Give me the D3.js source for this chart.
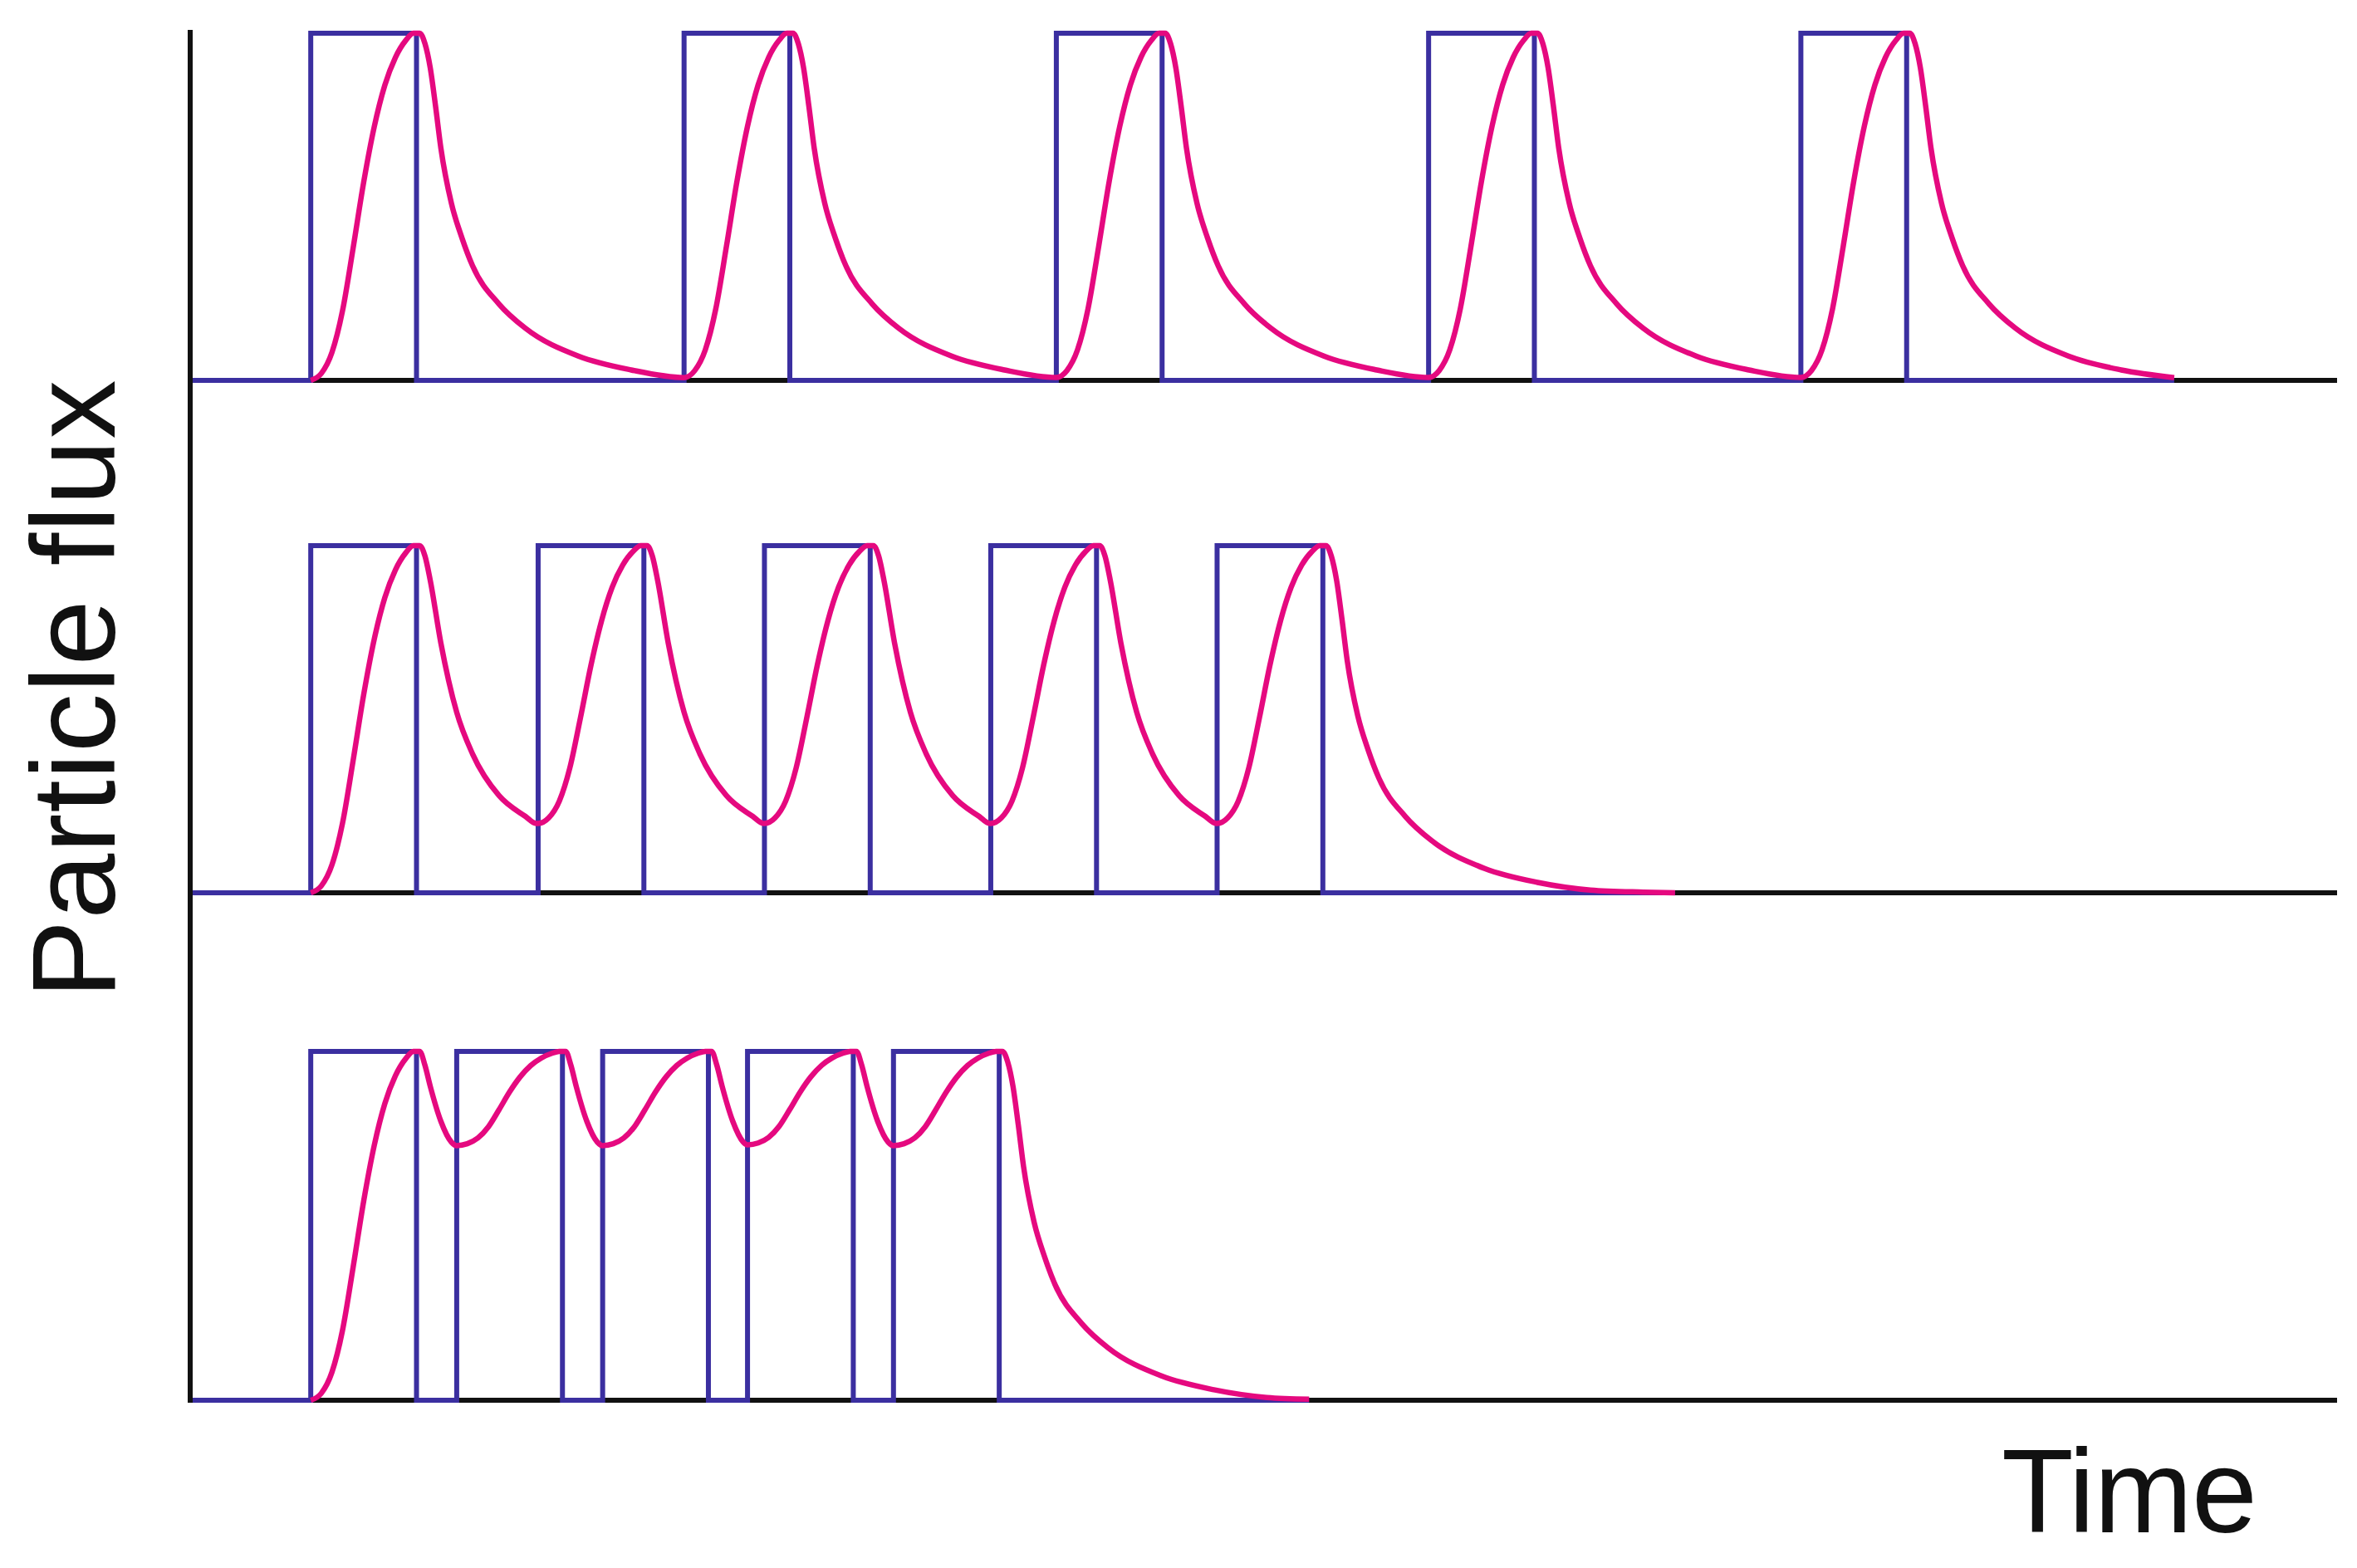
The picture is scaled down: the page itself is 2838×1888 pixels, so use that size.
<!DOCTYPE html>
<html lang="en">
<head>
  <meta charset="utf-8">
  <title>Particle flux</title>
  <script src="https://d3js.org/d3.v7.min.js"></script>
  <style>
    body { margin: 0; background: #fff; }
    text { font-family: "Liberation Sans", Arial, sans-serif; fill: #111; }
  </style>
</head>
<body>
<div id="container"></div>
<script>
  var w = 2838, h = 1888;

  // pulse start times per panel (time unit = one pulse width)
  var pulses1 = [1.14, 4.67, 8.19, 11.71, 15.23];
  var pulses2 = [1.14, 3.29, 5.43, 7.57, 9.71];
  var pulses3 = [1.14, 2.52, 3.90, 5.27, 6.65];
  var pulseWidth = 1;

  // rise of the response from current level to peak, [offset, fraction]
  var riseShape = [[0,0],[0.1,0.02],[0.2,0.08],[0.3,0.2],[0.4,0.38],[0.5,0.57],[0.6,0.73],[0.7,0.85],[0.8,0.93],[0.9,0.98],[0.97,1],[1.03,1]];
  // decay after the peak, read for each panel, [offset, level]
  var decay1 = [[0,1],[0.05,0.97],[0.1,0.9],[0.15,0.79],[0.2,0.67],[0.3,0.51],[0.4,0.41],[0.5,0.33],[0.75,0.22],[1,0.15],[1.5,0.07],[2,0.03],[2.5,0.008],[3,0.002],[3.3,0]];
  var decay2 = [[0,1],[0.05,0.97],[0.1,0.9],[0.2,0.72],[0.35,0.52],[0.5,0.4],[0.75,0.28],[1,0.22],[1.1,0.2]];
  var decay3 = [[0,1],[0.05,0.96],[0.1,0.9],[0.2,0.8],[0.3,0.74],[0.4,0.72],[0.5,0.72]];
  var tailEnd = [2.5, 3.3, 2.9];

  var panels = [
    {pulses: pulses1, decay: decay1, tail: tailEnd[0], base: 458, top: 40},
    {pulses: pulses2, decay: decay2, tail: tailEnd[1], base: 1075, top: 657},
    {pulses: pulses3, decay: decay3, tail: tailEnd[2], base: 1686, top: 1266}
  ];

  var svg = d3.select("#container").append("svg")
    .attr("width", w).attr("height", h);

  var x = d3.scaleLinear().domain([0, 20.3]).range([229, 2814]);

  function interp(dec) {
    return d3.scaleLinear().domain(dec.map(function(d) { return d[0]; }))
      .range(dec.map(function(d) { return d[1]; })).clamp(true);
  }

  panels.forEach(function(p, i) {
    var y = d3.scaleLinear().domain([0, 1]).range([p.base, p.top]);
    var line = d3.line().x(function(d) { return x(d[0]); }).y(function(d) { return y(d[1]); });

    // black baseline
    svg.append("line").attr("x1", x(0)).attr("x2", x(20.3))
      .attr("y1", p.base).attr("y2", p.base)
      .attr("stroke", "#111").attr("stroke-width", 6);

    // blue pulse train
    var sq = [[0, 0]];
    p.pulses.forEach(function(s) {
      sq.push([s, 0], [s, 1], [s + pulseWidth, 1], [s + pulseWidth, 0]);
    });
    var last = p.pulses[p.pulses.length - 1];
    var endT = last + 1.03 + p.tail;
    sq.push([endT, 0]);
    svg.append("path").attr("d", line(sq)).attr("fill", "none")
      .attr("stroke", "#3b2fa0").attr("stroke-width", 6);

    // pink response: rise from current level, then decay until the next pulse
    var resp = [];
    var level = 0;
    p.pulses.forEach(function(s, k) {
      riseShape.forEach(function(r) {
        resp.push([s + r[0], level + (1 - level) * r[1]]);
      });
      var peakT = s + 1.03;
      var isLast = k === p.pulses.length - 1;
      var dec = isLast ? decay1 : p.decay;
      var limit = isLast ? p.tail : p.pulses[k + 1] - peakT;
      dec.forEach(function(d) {
        if (d[0] > 0 && d[0] < limit) resp.push([peakT + d[0], d[1]]);
      });
      level = interp(dec)(limit);
      if (isLast) resp.push([peakT + limit, level]);
    });
    var curve = d3.line().curve(d3.curveMonotoneX)
      .x(function(d) { return x(d[0]); }).y(function(d) { return y(d[1]); });
    svg.append("path").attr("d", curve(resp)).attr("fill", "none")
      .attr("stroke", "#e5097f").attr("stroke-width", 6.5);
  });

  // vertical axis
  svg.append("line").attr("x1", x(0)).attr("x2", x(0))
    .attr("y1", 36).attr("y2", 1689)
    .attr("stroke", "#111").attr("stroke-width", 6);

  svg.append("text")
    .attr("transform", "translate(138,830) rotate(-90)")
    .attr("text-anchor", "middle")
    .attr("font-size", 142)
    .attr("textLength", 745)
    .text("Particle flux");

  svg.append("text")
    .attr("x", 2410).attr("y", 1845)
    .attr("font-size", 142)
    .attr("textLength", 308)
    .text("Time");
</script>
</body>
</html>
